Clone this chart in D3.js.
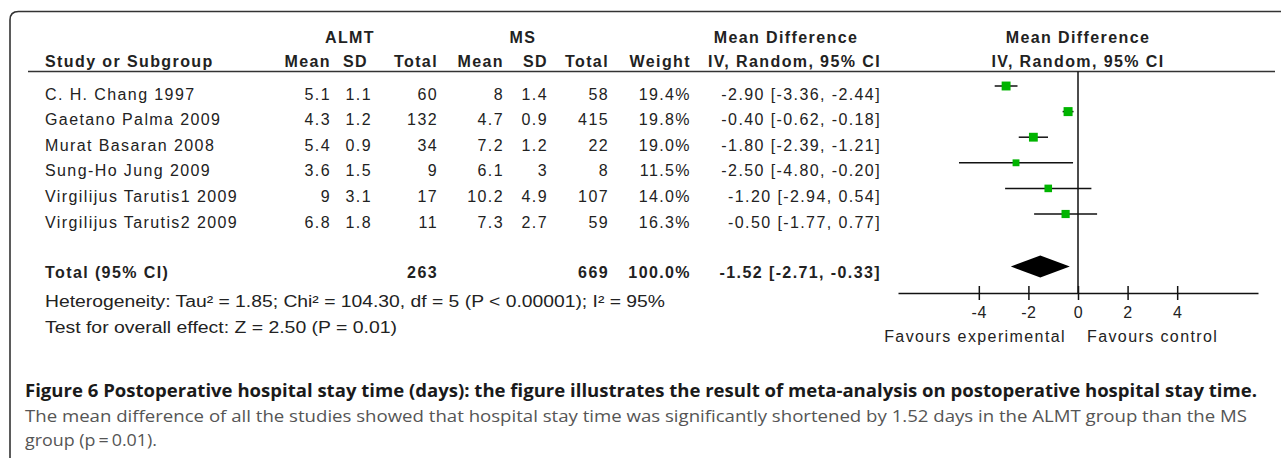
<!DOCTYPE html>
<html>
<head>
<meta charset="utf-8">
<script src="https://cdn.jsdelivr.net/npm/d3@7"></script>
<style>
  html, body { margin: 0; padding: 0; background: #fff; }
  svg { display: block; }
  .tbl { font-family: "Liberation Sans", Arial, sans-serif; font-size: 16px; fill: #222; letter-spacing: 1.4px; }
  .b { font-weight: bold; }
  .cap { font-family: "Open Sans", "Noto Sans", sans-serif; }
</style>
</head>
<body>
<svg id="chart" width="1281" height="458"></svg>
<script>
// ---------- data ----------
const studies = ["C. H. Chang 1997", "Gaetano Palma 2009", "Murat Basaran 2008",
  "Sung-Ho Jung 2009", "Virgilijus Tarutis1 2009", "Virgilijus Tarutis2 2009"];
const almtMean = [5.1, 4.3, 5.4, 3.6, 9, 6.8];
const almtSD   = [1.1, 1.2, 0.9, 1.5, 3.1, 1.8];
const almtN    = [60, 132, 34, 9, 17, 11];
const msMean   = [8, 4.7, 7.2, 6.1, 10.2, 7.3];
const msSD     = [1.4, 0.9, 1.2, 3, 4.9, 2.7];
const msN      = [58, 415, 22, 8, 107, 59];
const weights  = [19.4, 19.8, 19.0, 11.5, 14.0, 16.3];
const md       = [-2.90, -0.40, -1.80, -2.50, -1.20, -0.50];
const ciLow    = [-3.36, -0.62, -2.39, -4.80, -2.94, -1.77];
const ciHigh   = [-2.44, -0.18, -1.21, -0.20, 0.54, 0.77];
const totalALMT = 263, totalMS = 669, totalWeight = 100.0;
const totalMD = -1.52, totalLow = -2.71, totalHigh = -0.33;
const axisTicks = [-4, -2, 0, 2, 4];
const heterogeneityText = "Heterogeneity: Tau\u00B2 = 1.85; Chi\u00B2 = 104.30, df = 5 (P < 0.00001); I\u00B2 = 95%";
const overallText = "Test for overall effect: Z = 2.50 (P = 0.01)";
const favoursLeft = "Favours experimental", favoursRight = "Favours control";
const captionBold = "Figure 6 Postoperative hospital stay time (days): the figure illustrates the result of meta-analysis on postoperative hospital stay time.";
const captionLine2 = "The mean difference of all the studies showed that hospital stay time was significantly shortened by 1.52 days in the ALMT group than the MS";
const captionLine3 = "group (p\u2009=\u20090.01).";

// ---------- layout ----------
const svg = d3.select("#chart");
const x = d3.scaleLinear().domain([-7.26, 7.26]).range([898, 1258]);
const rowY = d3.scaleLinear().domain([0, 1]).range([99.5, 125.1]); // text baseline per row
const sq = d3.scaleSqrt().domain([0, 19.8]).range([0, 9]);
const axisY = 293;
const headerLineY = 71.5;

// frame (top + left with rounded corner)
svg.append("path")
  .attr("d", "M10,458 L10,20 Q10,11.5 18.5,11.5 L1281,11.5")
  .attr("fill", "none").attr("stroke", "#333").attr("stroke-width", 1.6);

// header underline
svg.append("line").attr("x1", 28).attr("x2", 1275).attr("y1", headerLineY).attr("y2", headerLineY)
  .attr("stroke", "#333").attr("stroke-width", 1.6);

const T = (x0, y0, s, anchor, bold) => svg.append("text")
  .attr("class", "tbl" + (bold ? " b" : ""))
  .attr("x", x0).attr("y", y0).attr("text-anchor", anchor || "start").text(s);

// column right edges
const col = { m1: 331, sd1: 372, n1: 438, m2: 504, sd2: 548, n2: 609, w: 691, ci: 881 };

// headers
T(350, 42.5, "ALMT", "middle", true);
T(523, 42.5, "MS", "middle", true);
T(786, 42.5, "Mean Difference", "middle", true);
T(x(0), 42.5, "Mean Difference", "middle", true);
T(45, 66.5, "Study or Subgroup", "start", true);
T(col.m1, 66.5, "Mean", "end", true);
T(col.sd1 - 4, 66.5, "SD", "end", true);
T(col.n1, 66.5, "Total", "end", true);
T(col.m2, 66.5, "Mean", "end", true);
T(col.sd2, 66.5, "SD", "end", true);
T(col.n2, 66.5, "Total", "end", true);
T(col.w, 66.5, "Weight", "end", true);
T(col.ci, 66.5, "IV, Random, 95% CI", "end", true);
T(x(0), 66.5, "IV, Random, 95% CI", "middle", true);

// study rows
studies.forEach((s, i) => {
  const y = rowY(i);
  T(45, y, s);
  T(col.m1, y, String(almtMean[i]), "end");
  T(col.sd1, y, String(almtSD[i]), "end");
  T(col.n1, y, String(almtN[i]), "end");
  T(col.m2, y, String(msMean[i]), "end");
  T(col.sd2, y, String(msSD[i]), "end");
  T(col.n2, y, String(msN[i]), "end");
  T(col.w, y, weights[i].toFixed(1) + "%", "end");
  T(col.ci, y, md[i].toFixed(2) + " [" + ciLow[i].toFixed(2) + ", " + ciHigh[i].toFixed(2) + "]", "end");
});

// total row
const totalY = 278;
T(45, totalY, "Total (95% CI)", "start", true);
T(col.n1, totalY, String(totalALMT), "end", true);
T(col.n2, totalY, String(totalMS), "end", true);
T(col.w, totalY, totalWeight.toFixed(1) + "%", "end", true);
T(col.ci, totalY, totalMD.toFixed(2) + " [" + totalLow.toFixed(2) + ", " + totalHigh.toFixed(2) + "]", "end", true);

svg.append("text").attr("class", "tbl").style("letter-spacing", "0px")
  .attr("x", 45).attr("y", 306.5).attr("textLength", 620).attr("lengthAdjust", "spacingAndGlyphs")
  .text(heterogeneityText);
svg.append("text").attr("class", "tbl").style("letter-spacing", "0px")
  .attr("x", 45).attr("y", 333).attr("textLength", 352).attr("lengthAdjust", "spacingAndGlyphs")
  .text(overallText);

// zero line
svg.append("line").attr("x1", x(0)).attr("x2", x(0)).attr("y1", headerLineY).attr("y2", axisY)
  .attr("stroke", "#111").attr("stroke-width", 1.5);

// CI lines and squares
const rows = studies.map((s, i) => ({ i, md: md[i], lo: ciLow[i], hi: ciHigh[i], w: weights[i] }));
svg.selectAll("line.ci").data(rows).join("line").attr("class", "ci")
  .attr("x1", d => x(d.lo)).attr("x2", d => x(d.hi))
  .attr("y1", d => rowY(d.i) - 13.5).attr("y2", d => rowY(d.i) - 13.5)
  .attr("stroke", "#111").attr("stroke-width", 1.5);
svg.selectAll("rect.pt").data(rows).join("rect").attr("class", "pt")
  .attr("x", d => x(d.md) - sq(d.w) / 2).attr("y", d => rowY(d.i) - 13.5 - sq(d.w) / 2)
  .attr("width", d => sq(d.w)).attr("height", d => sq(d.w))
  .attr("fill", "#00b400");

// diamond
const dy = 266.5, dh = 11;
svg.append("path")
  .attr("d", `M${x(totalLow)},${dy} L${x(totalMD)},${dy - dh} L${x(totalHigh)},${dy} L${x(totalMD)},${dy + dh} Z`)
  .attr("fill", "#000");

// axis
const axis = d3.axisBottom(x).tickValues(axisTicks).tickSize(7).tickSizeOuter(0).tickFormat(d3.format("d"));
const gAxis = svg.append("g").attr("transform", `translate(0,${axisY})`).call(axis);
gAxis.attr("font-size", null).attr("font-family", null);
gAxis.select(".domain").attr("stroke", "#111").attr("stroke-width", 1.5);
gAxis.selectAll(".tick line").attr("y1", -7).attr("y2", 7).attr("stroke", "#111").attr("stroke-width", 1.5);
gAxis.selectAll(".tick text").attr("class", "tbl").attr("y", 24.5).attr("dy", null).attr("fill", null)
  .style("letter-spacing", "0.6px")
  .text(d => d === 0 ? "0" : String(d));

T(x(0) - 12, 341.5, favoursLeft, "end");
T(x(0) + 9, 341.5, favoursRight, "start");

// caption
svg.append("text").attr("class", "cap").attr("x", 25).attr("y", 397)
  .attr("font-size", 17).attr("font-weight", "bold").attr("fill", "#1a1a1a")
  .attr("textLength", 1232).attr("lengthAdjust", "spacingAndGlyphs").text(captionBold);
svg.append("text").attr("class", "cap").attr("x", 25).attr("y", 422)
  .attr("font-size", 17).attr("fill", "#555")
  .attr("textLength", 1222).attr("lengthAdjust", "spacingAndGlyphs").text(captionLine2);
svg.append("text").attr("class", "cap").attr("x", 25).attr("y", 446)
  .attr("font-size", 17).attr("fill", "#555")
  .attr("textLength", 132).attr("lengthAdjust", "spacingAndGlyphs").text(captionLine3);
</script>
</body>
</html>
